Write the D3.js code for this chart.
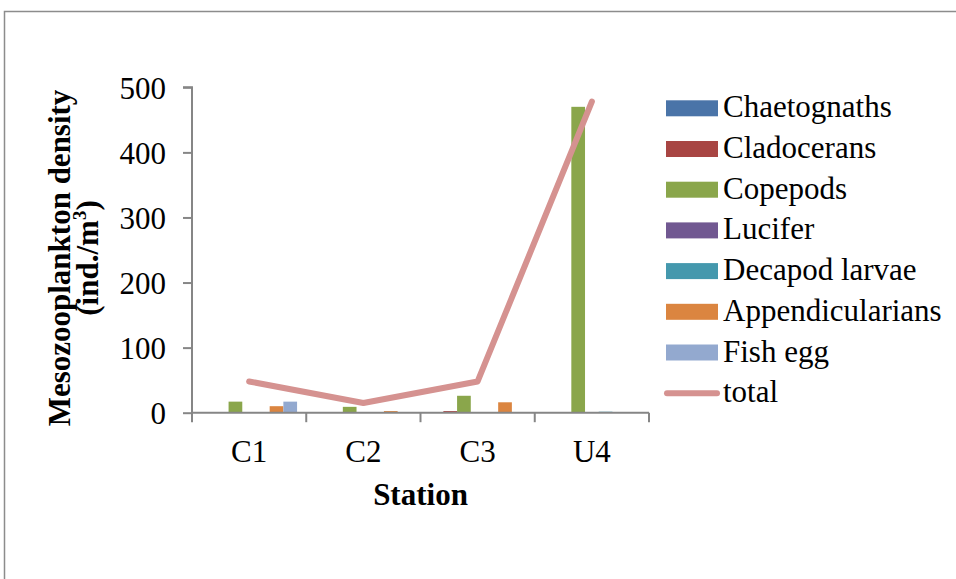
<!DOCTYPE html>
<html>
<head>
<meta charset="utf-8">
<script src="https://cdn.jsdelivr.net/npm/d3@7/dist/d3.min.js"></script>
<style>
  html, body { margin: 0; padding: 0; background: #fff; }
  svg { display: block; }
  text { font-family: "Liberation Serif", "Times New Roman", serif; fill: #000; }
</style>
</head>
<body>
<svg id="chart" width="956" height="579"></svg>
<script>
const stations = ["C1", "C2", "C3", "U4"];
const seriesNames = ["Chaetognaths", "Cladocerans", "Copepods", "Lucifer", "Decapod larvae", "Appendicularians", "Fish egg"];
const chaetognaths = [0, 0, 0, 1];
const cladocerans = [0, 0, 2.5, 1];
const copepods = [17, 9, 26, 470];
const lucifer = [0, 0, 0, 0];
const decapodLarvae = [0, 0, 0, 1.5];
const appendicularians = [10, 2.5, 16, 1];
const fishEgg = [17, 0, 0, 0];
const total = [48, 15, 48, 478];
const yTicks = [0, 100, 200, 300, 400, 500];
const colors = ["#4a74a8", "#a84543", "#8aa64b", "#715891", "#4498ad", "#db8540", "#93a9cf"];
const lineColor = "#d59290";

const seriesValues = [chaetognaths, cladocerans, copepods, lucifer, decapodLarvae, appendicularians, fishEgg];

const svg = d3.select("#chart");
const fs = 31;

// outer frame
svg.append("rect").attr("x", 4.5).attr("y", 11.5).attr("width", 1000).attr("height", 1000)
  .attr("fill", "none").attr("stroke", "#8c8c8c").attr("stroke-width", 1.5);

const x0 = 192, x1 = 649, yTop = 87.3, yBot = 412.7;
const x = d3.scaleBand().domain(stations).range([x0, x1]).padding(0);
const xs = d3.scaleBand().domain(d3.range(seriesNames.length)).range([0, x.bandwidth()])
  .paddingInner(0).paddingOuter(0.67);
const y = d3.scaleLinear().domain([0, 500]).range([yBot, yTop]);

// bars
seriesValues.forEach((vals, si) => {
  svg.append("g").selectAll("rect").data(vals).join("rect")
    .attr("x", (d, i) => x(stations[i]) + xs(si))
    .attr("width", xs.bandwidth())
    .attr("y", d => y(d))
    .attr("height", d => y(0) - y(d))
    .attr("fill", colors[si]);
});

// y axis
const yAxis = d3.axisLeft(y).tickValues(yTicks).tickSize(9).tickPadding(17).tickFormat(d3.format("d"));
const gy = svg.append("g").attr("transform", `translate(${x0},0)`).call(yAxis);
gy.select(".domain").attr("stroke", "#868686").attr("stroke-width", 2).attr("d", `M-9,${yTop}H0V${yBot + 9}`);
gy.selectAll(".tick line").attr("stroke", "#868686").attr("stroke-width", 2);
gy.selectAll(".tick text").attr("font-size", fs).attr("font-family", "Liberation Serif, Times New Roman, serif")
  .attr("dy", "0.36em").attr("fill", "#000");

// x axis
const gx = svg.append("g").attr("transform", `translate(0,${yBot})`).call(d3.axisBottom(x).tickSize(0).tickPadding(0));
gx.select(".domain").attr("stroke", "#868686").attr("stroke-width", 2).attr("d", `M${x0},0H${x1}`);
gx.selectAll(".tick text").attr("font-size", fs).attr("font-family", "Liberation Serif, Times New Roman, serif")
  .attr("y", 49).attr("dy", 0).attr("fill", "#000");
const bounds = stations.map(s => x(s)).concat([x1]);
gx.append("g").selectAll("line").data(bounds).join("line")
  .attr("x1", d => d).attr("x2", d => d).attr("y1", 0).attr("y2", 9.5)
  .attr("stroke", "#868686").attr("stroke-width", 2);

// total line
const line = d3.line().x((d, i) => x(stations[i]) + x.bandwidth() / 2).y(d => y(d));
svg.append("path").datum(total).attr("d", line).attr("fill", "none")
  .attr("stroke", lineColor).attr("stroke-width", 6).attr("stroke-linecap", "round").attr("stroke-linejoin", "round");

// axis titles
svg.append("text").attr("x", (x0 + x1) / 2).attr("y", 505).attr("text-anchor", "middle")
  .attr("font-size", fs).attr("font-weight", "bold").text("Station");

const yt = svg.append("g").attr("transform", "translate(70,258) rotate(-90)");
yt.append("text").attr("x", 0).attr("y", 0).attr("text-anchor", "middle")
  .attr("font-size", fs).attr("font-weight", "bold").text("Mesozooplankton density");
const t2 = yt.append("text").attr("x", 0).attr("y", 28).attr("text-anchor", "middle")
  .attr("font-size", fs).attr("font-weight", "bold");
t2.append("tspan").text("(ind./m");
t2.append("tspan").attr("font-size", 19).attr("dy", -12).text("3");
t2.append("tspan").attr("dy", 12).text(")");

// legend
const legY0 = 108.3, legStep = 40.7;
const leg = svg.append("g");
seriesNames.forEach((name, i) => {
  const cy = legY0 + i * legStep;
  leg.append("rect").attr("x", 666).attr("y", cy - 8).attr("width", 52).attr("height", 16).attr("fill", colors[i]);
  leg.append("text").attr("x", 723).attr("y", cy + 9).attr("font-size", fs).text(name);
});
const ly = legY0 + seriesNames.length * legStep;
leg.append("line").attr("x1", 667).attr("x2", 717).attr("y1", ly).attr("y2", ly)
  .attr("stroke", lineColor).attr("stroke-width", 6).attr("stroke-linecap", "round");
leg.append("text").attr("x", 723).attr("y", ly + 9).attr("font-size", fs).text("total");
</script>
</body>
</html>
